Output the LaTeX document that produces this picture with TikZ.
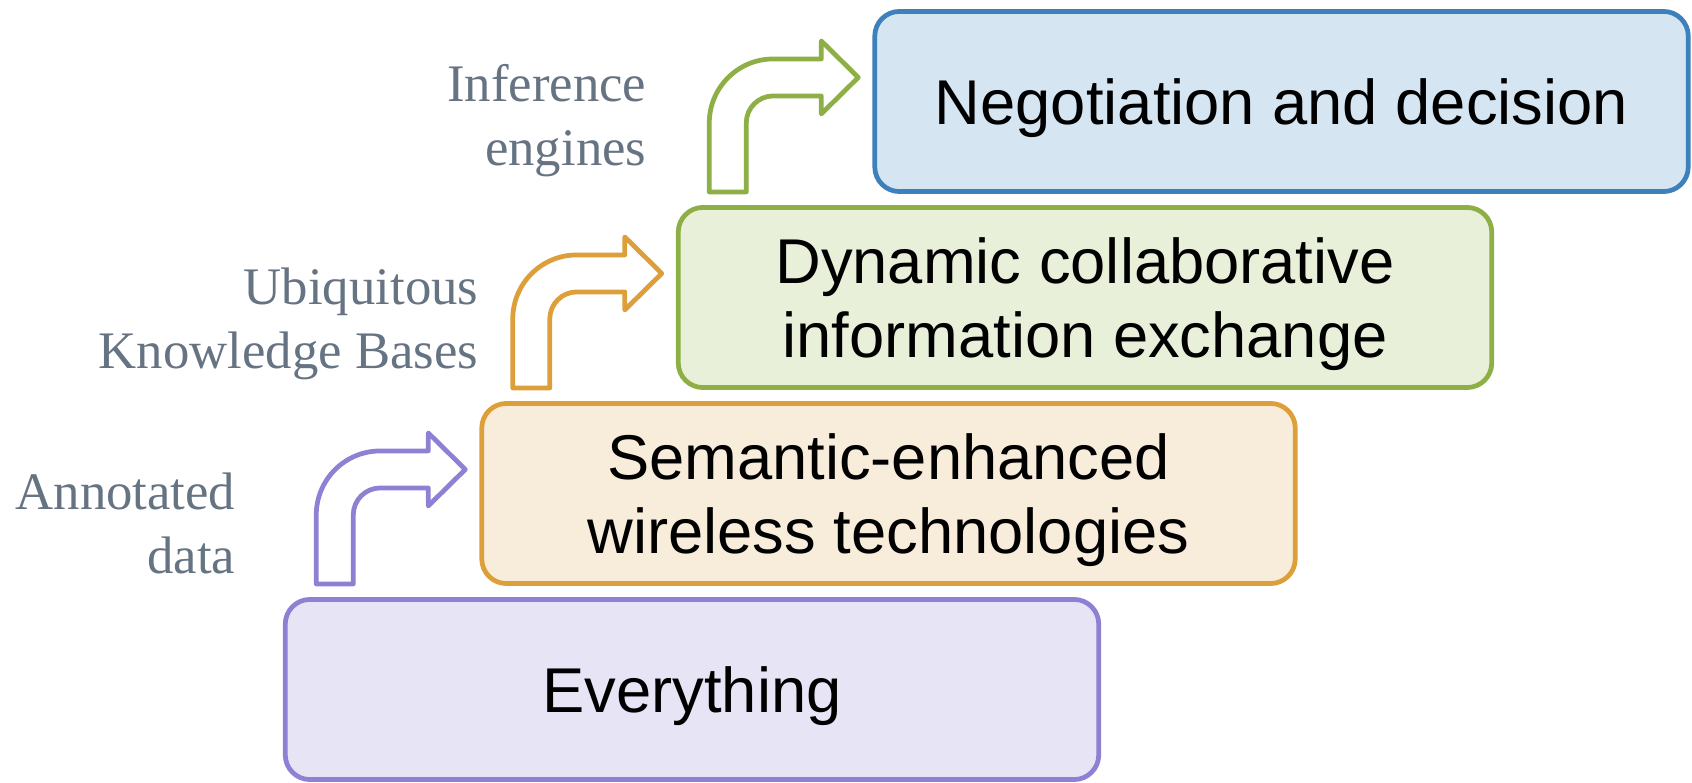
\documentclass[tikz,border=0pt]{standalone}
\usepackage{fontspec}
\setmainfont{Liberation Serif}
\setsansfont{Liberation Sans}
\usetikzlibrary{positioning}

\definecolor{purpline}{RGB}{142,128,211}
\definecolor{purpfill}{RGB}{231,228,246}
\definecolor{orngline}{RGB}{220,159,58}
\definecolor{orngfill}{RGB}{248,236,218}
\definecolor{grnline}{RGB}{142,174,70}
\definecolor{grnfill}{RGB}{232,240,217}
\definecolor{blueline}{RGB}{60,128,188}
\definecolor{bluefill}{RGB}{213,229,242}
\definecolor{hintgray}{RGB}{102,115,130}

\begin{document}
\begin{tikzpicture}[x=0.01cm,y=0.01cm,
    level/.style={rectangle,rounded corners=7pt,draw,line width=1.35pt,outer sep=0pt,
      minimum width=8.13cm,minimum height=1.8cm,align=center,text depth=-0.3pt,
      font=\sffamily\fontsize{18}{21}\selectfont},
    hint/.style={font=\fontsize{15}{18.2}\selectfont,text=hintgray,align=right,
      anchor=east,inner sep=0pt},
    bentline/.style={line width=1.35pt,line join=round},
    pics/bent/.style={code={
      \path[pic actions] (0,0) -- (0,69) arc[start angle=180,end angle=90,radius=64]
        -- (112,133) -- (112,151) -- (149,114.5) -- (112,78) -- (112,96) -- (64,96)
        arc[start angle=90,end angle=180,radius=27] -- (37,0) -- cycle;}}]

\useasboundingbox (0,0) rectangle (1692,782);

% the four levels
\node[level, draw=purpline, fill=purpfill] (every)    at (692,92.5) {Everything};
\node[level, draw=orngline, fill=orngfill] (semantic) at ([shift={(196.5,196)}]every.center) {Semantic-enhanced\\wireless technologies};
\node[level, draw=grnline,  fill=grnfill]  (dynamic)  at ([shift={(196.5,196)}]semantic.center) {Dynamic collaborative\\information exchange};
\node[level, draw=blueline, fill=bluefill] (negot)    at ([shift={(196.5,196)}]dynamic.center) {Negotiation and decision};

% bent arrows between levels
\pic[bentline, draw=purpline] at ([shift={(31,15.5)}]every.north west) {bent};
\pic[bentline, draw=orngline] at ([shift={(31,15.5)}]semantic.north west) {bent};
\pic[bentline, draw=grnline]  at ([shift={(31,15.5)}]dynamic.north west) {bent};

% side labels
\node[hint] (annot) at (236,259)   {Annotated\\data};
\node[hint] (ubiq)  at (479,458.5) {Ubiquitous\\Knowledge Bases};
\node[hint] (infer) at (647,661)   {Inference\\engines};

\end{tikzpicture}
\end{document}
